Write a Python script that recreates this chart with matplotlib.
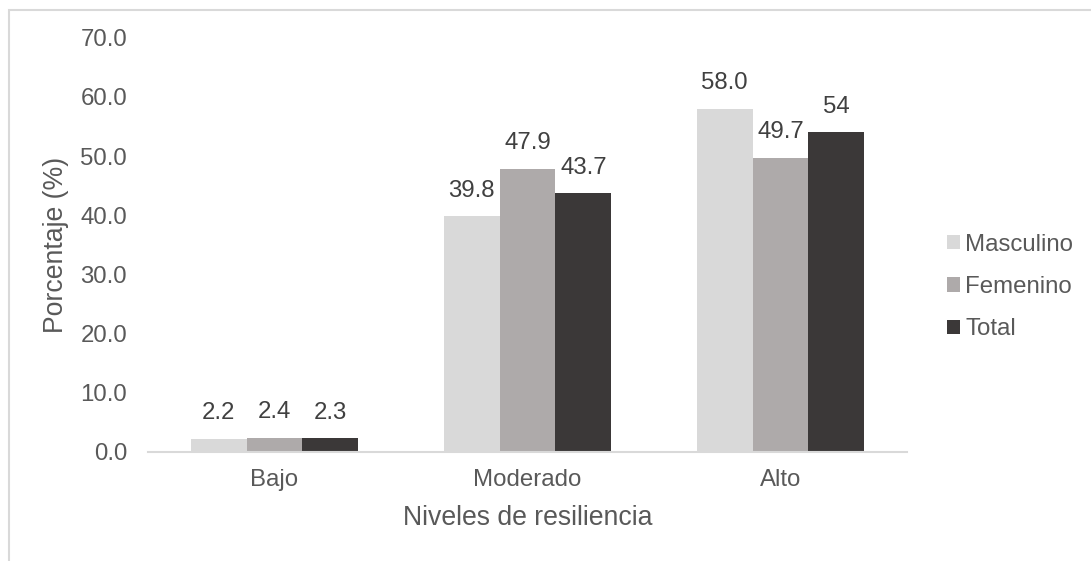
import numpy as np
import matplotlib
matplotlib.use('Agg')
import matplotlib.pyplot as plt
from matplotlib.patches import Rectangle

plt.rcParams['font.family'] = ['Liberation Sans', 'DejaVu Sans']

# Data
categories = ['Bajo', 'Moderado', 'Alto']
series_names = ['Masculino', 'Femenino', 'Total']
masculino = [2.2, 39.8, 58.0]
femenino = [2.4, 47.9, 49.7]
total = [2.3, 43.7, 54]
masculino_labels = ['2.2', '39.8', '58.0']
femenino_labels = ['2.4', '47.9', '49.7']
total_labels = ['2.3', '43.7', '54']
y_ticks = [0, 10, 20, 30, 40, 50, 60, 70]

colors = ['#D9D9D9', '#AEAAAA', '#3B3838']
text_color = '#595959'
fs = 17.3
title_fs = 19.2

fig = plt.figure(figsize=(10.91, 5.61), dpi=100)
ax = fig.add_axes([148 / 1091, 1 - 452 / 561, (907 - 148) / 1091, (452 - 37.7) / 561])

# outer chart frame (partly cropped in the reference)
fig.add_artist(Rectangle((8.5 / 1091, -0.1), 1.2, 1 - 9.5 / 561 + 0.1,
                         transform=fig.transFigure, fill=False,
                         edgecolor='#D9D9D9', lw=1.5))

x = np.arange(len(categories))
w = 0.221
all_vals = [masculino, femenino, total]
all_labels = [masculino_labels, femenino_labels, total_labels]
for i, (vals, labs) in enumerate(zip(all_vals, all_labels)):
    pos = x + (i - 1) * w
    ax.bar(pos, vals, width=w, color=colors[i], label=series_names[i])
    for px, v, lab in zip(pos, vals, labs):
        ax.annotate(lab, (px, v), xytext=(0, 18.5), textcoords='offset points',
                    ha='center', va='center', fontsize=fs, color='#404040')

ax.set_xlim(-0.5, 2.5)
ax.set_ylim(0, 70)
ax.set_yticks(y_ticks)
ax.set_yticklabels([f'{t:.1f}' for t in y_ticks])
ax.set_xticks(x)
ax.set_xticklabels(categories)
ax.tick_params(axis='both', length=0, labelsize=fs, colors=text_color)
ax.tick_params(axis='y', pad=15)
ax.tick_params(axis='x', pad=12)

for s in ['top', 'right', 'left']:
    ax.spines[s].set_visible(False)
ax.spines['bottom'].set_color('#D9D9D9')
ax.spines['bottom'].set_linewidth(1.5)

ax.set_xlabel('Niveles de resiliencia', fontsize=title_fs, color=text_color, labelpad=10)
ax.set_ylabel('Porcentaje (%)', fontsize=title_fs, color=text_color, labelpad=8)

leg = fig.legend(loc='center left', bbox_to_anchor=(947 / 1091, 1 - 287 / 561),
                 frameon=False, fontsize=fs, handlelength=0.55, handleheight=0.55,
                 handletextpad=0.2, labelspacing=0.85, borderpad=0, borderaxespad=0)
for t in leg.get_texts():
    t.set_color(text_color)

fig.savefig('out.png', dpi=100)
